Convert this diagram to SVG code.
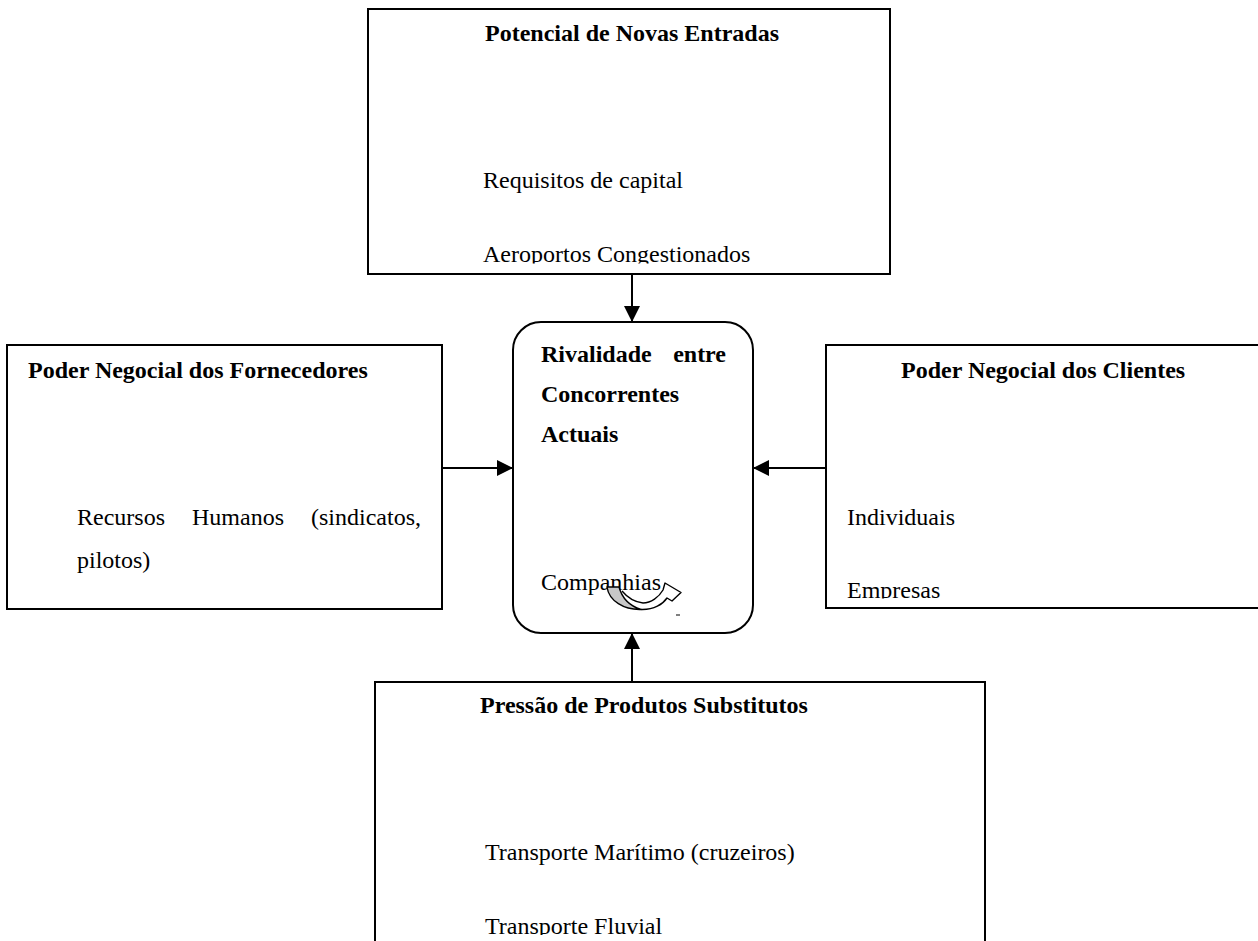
<svg xmlns="http://www.w3.org/2000/svg" width="1258" height="941" viewBox="0 0 1258 941">
<style>
.box{fill:#fff;stroke:#000;stroke-width:2}
.t{font-family:"Liberation Serif","Times New Roman",serif;font-size:24px;fill:#000}
.b{font-weight:bold}
.conn{stroke:#000;stroke-width:2;fill:none}
</style>
<defs>
<marker id="ah" viewBox="0 0 16 16" refX="16" refY="8" markerWidth="16" markerHeight="16" markerUnits="userSpaceOnUse" orient="auto">
<path d="M0,0 L16,8 L0,16 Z" fill="#000"/>
</marker>
<clipPath id="cTop"><rect x="368" y="0" width="530" height="263.5"/></clipPath>
<clipPath id="cRight"><rect x="826" y="330" width="440" height="268.5"/></clipPath>
<clipPath id="cBottom"><rect x="380" y="680" width="700" height="255"/></clipPath>
</defs>
<rect width="1258" height="941" fill="#fff"/>

<g id="node-top">
<rect class="box" x="368" y="9" width="522" height="265"/>
<text class="t b" x="632" y="41" text-anchor="middle">Potencial de Novas Entradas</text>
<text class="t" x="483" y="188">Requisitos de capital</text>
<text class="t" x="483" y="262" clip-path="url(#cTop)">Aeroportos Congestionados</text>
</g>

<g id="node-left">
<rect class="box" x="7" y="345" width="435" height="264"/>
<text class="t b" x="28" y="378">Poder Negocial dos Fornecedores</text>
<text class="t" x="77" y="525">Recursos</text>
<text class="t" x="192" y="525">Humanos</text>
<text class="t" x="421" y="525" text-anchor="end">(sindicatos,</text>
<text class="t" x="77" y="568">pilotos)</text>
</g>

<g id="node-right">
<rect class="box" x="826" y="345" width="445" height="263"/>
<text class="t b" x="901" y="378">Poder Negocial dos Clientes</text>
<text class="t" x="847" y="525">Individuais</text>
<text class="t" x="847" y="597.5" clip-path="url(#cRight)">Empresas</text>
</g>

<g id="node-bottom">
<rect class="box" x="375" y="682" width="610" height="280"/>
<text class="t b" x="480" y="713">Pressão de Produtos Substitutos</text>
<text class="t" x="485" y="860">Transporte Marítimo (cruzeiros)</text>
<text class="t" x="485" y="933.5" clip-path="url(#cBottom)">Transporte Fluvial</text>
</g>

<g id="node-center">
<rect class="box" x="513" y="322" width="240" height="311" rx="28" ry="28"/>
<text class="t b" x="541" y="362">Rivalidade</text>
<text class="t b" x="726" y="362" text-anchor="end">entre</text>
<text class="t b" x="541" y="402">Concorrentes</text>
<text class="t b" x="541" y="442">Actuais</text>
<text class="t" x="541" y="590">Companhias</text>
<g id="uturn" stroke="#000" stroke-width="1.4" stroke-linejoin="round" fill="none">
<path d="M607,587 L619,587 C622,598 630,606 641,609.5 C624,610 609,601 607,587 Z" fill="#c8c8c8"/>
<path d="M641,609.5 C654,610 663,604 667,598 L672,601 L681,592.5 L665,583 L663,590 C659,597 651,603 643,603 C634,602 627,597 622,591"/>
</g>
<line x1="676" y1="615" x2="680" y2="615" stroke="#000" stroke-width="1"/>
</g>

<g id="connectors">
<line class="conn" x1="632" y1="274" x2="632" y2="322" marker-end="url(#ah)"/>
<line class="conn" x1="442" y1="468" x2="513" y2="468" marker-end="url(#ah)"/>
<line class="conn" x1="826" y1="468" x2="753" y2="468" marker-end="url(#ah)"/>
<line class="conn" x1="632" y1="682" x2="632" y2="633" marker-end="url(#ah)"/>
</g>
</svg>
